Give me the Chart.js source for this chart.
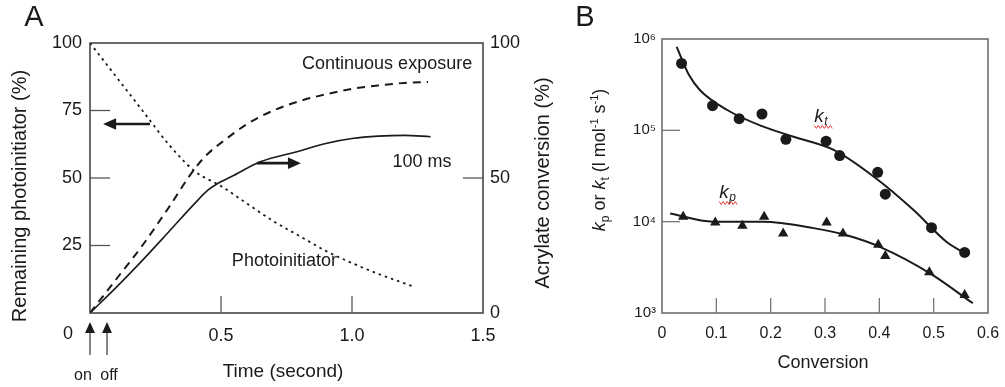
<!DOCTYPE html>
<html lang="en">
<head>
<meta charset="UTF-8">
<title>Photoinitiator consumption and rate constants</title>
<script src="https://cdn.jsdelivr.net/npm/chart.js"></script>
<style>
  * { margin: 0; padding: 0; }
  body { background: #fff; width: 1005px; height: 387px; position: relative; overflow: hidden; }
  .panel { position: absolute; top: 0; }
  #panelA { left: 0; width: 560px; height: 387px; }
  #panelB { left: 560px; width: 445px; height: 387px; }
</style>
</head>
<body>
<div class="panel" id="panelA"><canvas id="chartA" width="560" height="387"></canvas></div>
<div class="panel" id="panelB"><canvas id="chartB" width="445" height="387"></canvas></div>
<script>
// ---- panel A: time (s) vs remaining photoinitiator / acrylate conversion (%)
const piTime = [0, 0.1, 0.2, 0.3, 0.4, 0.5, 0.6, 0.7, 0.8, 0.9, 1.0, 1.1, 1.2, 1.24];
const piRemaining = [100, 87.5, 75, 62.5, 52.5, 47, 40.5, 34, 28.5, 23, 18.5, 14.5, 11, 9.6];
const contTime = [0, 0.1, 0.2, 0.3, 0.4, 0.45, 0.5, 0.6, 0.7, 0.8, 0.9, 1.0, 1.1, 1.2, 1.29];
const contConversion = [0, 12.5, 25, 39, 53.5, 59, 63, 70, 75, 78.5, 81, 83, 84.3, 85.2, 85.6];
const pulseTime = [0, 0.1, 0.2, 0.3, 0.4, 0.45, 0.48, 0.55, 0.65, 0.8, 0.9, 1.0, 1.1, 1.2, 1.3];
const pulseConversion = [0, 9.5, 19.5, 30, 40.6, 45.5, 47.5, 51, 56, 60, 62.8, 64.6, 65.5, 65.8, 65.3];

// ---- panel B: conversion vs kt / kp (l mol-1 s-1)
const ktConv = [0.036, 0.093, 0.142, 0.184, 0.228, 0.302, 0.327, 0.397, 0.411, 0.496, 0.557];
const ktVal = [5.4e5, 1.86e5, 1.34e5, 1.51e5, 7.98e4, 7.6e4, 5.3e4, 3.47e4, 2.0e4, 8.6e3, 4.6e3];
const kpConv = [0.039, 0.098, 0.148, 0.188, 0.223, 0.303, 0.333, 0.398, 0.411, 0.492, 0.557];
const kpVal = [1.13e4, 9.8e3, 9.0e3, 1.13e4, 7.4e3, 9.8e3, 7.4e3, 5.6e3, 4.2e3, 2.8e3, 1.57e3];
const ktFitConv = [0.027, 0.05, 0.07, 0.12, 0.184, 0.242, 0.316, 0.39, 0.463, 0.524, 0.564];
const ktFitVal = [8.2e5, 4.0e5, 2.75e5, 1.67e5, 1.11e5, 8.5e4, 6.1e4, 3.1e4, 1.34e4, 6.0e3, 4.3e3];
const kpFitConv = [0.015, 0.094, 0.186, 0.279, 0.340, 0.401, 0.494, 0.572];
const kpFitVal = [1.23e4, 1.0e4, 1.0e4, 8.5e3, 7.1e3, 5.3e3, 2.7e3, 1.28e3];

const decadeTicks = [1e3, 1e4, 1e5, 1e6];
const decadeLabels = ['10³', '10⁴', '10⁵', '10⁶'];

const FONT = "'Liberation Sans', Arial, sans-serif";
const INK = '#1a1a1a';
Chart.defaults.font.family = FONT;
Chart.defaults.color = INK;

function pts(xs, ys) { return xs.map((x, i) => ({ x: x, y: ys[i] })); }

function text(ctx, str, x, y, size, opts) {
  opts = opts || {};
  ctx.save();
  ctx.font = (opts.style || '') + ' ' + size + 'px ' + FONT;
  ctx.fillStyle = opts.color || INK;
  ctx.textAlign = opts.align || 'center';
  ctx.textBaseline = 'middle';
  ctx.translate(x, y);
  if (opts.rotate) ctx.rotate(opts.rotate);
  ctx.fillText(str, 0, 0);
  ctx.restore();
}

function arrow(ctx, x1, y1, x2, y2, head, lw) {
  const a = Math.atan2(y2 - y1, x2 - x1);
  ctx.save();
  ctx.strokeStyle = INK; ctx.fillStyle = INK; ctx.lineWidth = lw;
  ctx.beginPath();
  ctx.moveTo(x1, y1);
  ctx.lineTo(x2 - Math.cos(a) * head * 0.8, y2 - Math.sin(a) * head * 0.8);
  ctx.stroke();
  ctx.beginPath();
  ctx.moveTo(x2, y2);
  ctx.lineTo(x2 - head * Math.cos(a) + head * 0.45 * Math.sin(a), y2 - head * Math.sin(a) - head * 0.45 * Math.cos(a));
  ctx.lineTo(x2 - head * Math.cos(a) - head * 0.45 * Math.sin(a), y2 - head * Math.sin(a) + head * 0.45 * Math.cos(a));
  ctx.closePath();
  ctx.fill();
  ctx.restore();
}

function tick(ctx, x1, y1, x2, y2, color) {
  ctx.save();
  ctx.strokeStyle = color; ctx.lineWidth = 1.3;
  ctx.beginPath(); ctx.moveTo(x1, y1); ctx.lineTo(x2, y2); ctx.stroke();
  ctx.restore();
}

// rotated title made of styled pieces (italic k, sub/superscripts)
function richVertical(ctx, pieces, cx, cy, size) {
  ctx.save();
  ctx.translate(cx, cy);
  ctx.rotate(-Math.PI / 2);
  let total = 0;
  pieces.forEach(p => {
    ctx.font = (p.style || '') + ' ' + Math.round(size * (p.scale || 1)) + 'px ' + FONT;
    p.w = ctx.measureText(p.t).width;
    total += p.w;
  });
  let x = -total / 2;
  ctx.fillStyle = INK;
  ctx.textBaseline = 'middle';
  ctx.textAlign = 'left';
  pieces.forEach(p => {
    ctx.font = (p.style || '') + ' ' + Math.round(size * (p.scale || 1)) + 'px ' + FONT;
    ctx.fillText(p.t, x, (p.dy || 0) * size);
    x += p.w;
  });
  ctx.restore();
}

function fixBox(w, h) {
  return s => {
    if (w !== null) s.width = w;
    if (h !== null) s.height = h;
    s.paddingTop = 0; s.paddingBottom = 0; s.paddingLeft = 0; s.paddingRight = 0;
  };
}

const decorA = {
  id: 'decorA',
  afterDraw(chart) {
    const { ctx, chartArea: ca, scales } = chart;
    const x = scales.x, yL = scales.yL, yR = scales.yR;
    // frame
    ctx.save();
    ctx.strokeStyle = '#3a3a3a'; ctx.lineWidth = 1.5;
    ctx.strokeRect(ca.left, ca.top, ca.right - ca.left, ca.bottom - ca.top);
    ctx.restore();
    // inward ticks
    [25, 50, 75].forEach(v => { const py = yL.getPixelForValue(v); tick(ctx, ca.left, py, ca.left + 20, py, '#555'); });
    [50].forEach(v => { const py = yR.getPixelForValue(v); tick(ctx, ca.right - 20, py, ca.right, py, '#555'); });
    [0.5, 1.0].forEach(v => { const px = x.getPixelForValue(v); tick(ctx, px, ca.bottom, px, ca.bottom - 17, '#555'); });
    // direction arrows
    arrow(ctx, x.getPixelForValue(0.229), yL.getPixelForValue(70), x.getPixelForValue(0.05), yL.getPixelForValue(70), 13, 2.6);
    arrow(ctx, x.getPixelForValue(0.637), yR.getPixelForValue(55.5), x.getPixelForValue(0.805), yR.getPixelForValue(55.5), 13, 2.6);
    // curve labels
    text(ctx, 'Continuous exposure', x.getPixelForValue(1.134), yR.getPixelForValue(92.2), 18);
    text(ctx, '100 ms', x.getPixelForValue(1.267), yR.getPixelForValue(55.8), 18);
    text(ctx, 'Photoinitiator', x.getPixelForValue(0.742), yL.getPixelForValue(19.1), 18);
    // origin label, on / off markers
    text(ctx, '0', x.getPixelForValue(0) - 22, ca.bottom + 21, 18);
    [0, 0.065].forEach(t => {
      const px = x.getPixelForValue(t);
      tick(ctx, px, ca.bottom + 42, px, ca.bottom + 18, '#444');
      arrow(ctx, px, ca.bottom + 20, px, ca.bottom + 9, 11, 0.1);
    });
    text(ctx, 'on', x.getPixelForValue(0) - 7, 376, 16);
    text(ctx, 'off', x.getPixelForValue(0.065) + 2, 376, 16);
    // axis titles
    text(ctx, 'Time (second)', 283, 372, 19);
    text(ctx, 'Remaining photoinitiator (%)', 20, 196, 20, { rotate: -Math.PI / 2 });
    text(ctx, 'Acrylate conversion (%)', 543, 183, 20, { rotate: -Math.PI / 2 });
    // panel letter
    text(ctx, 'A', 34, 18, 29);
  }
};

new Chart(document.getElementById('chartA'), {
  type: 'line',
  data: {
    datasets: [
      { label: 'Photoinitiator', data: pts(piTime, piRemaining), yAxisID: 'yL', borderColor: INK, borderWidth: 1.8, borderDash: [2.5, 4], pointRadius: 0, cubicInterpolationMode: 'monotone', fill: false },
      { label: 'Continuous exposure', data: pts(contTime, contConversion), yAxisID: 'yR', borderColor: INK, borderWidth: 2, borderDash: [8, 6], pointRadius: 0, cubicInterpolationMode: 'monotone', fill: false },
      { label: '100 ms', data: pts(pulseTime, pulseConversion), yAxisID: 'yR', borderColor: INK, borderWidth: 1.6, pointRadius: 0, cubicInterpolationMode: 'monotone', fill: false }
    ]
  },
  options: {
    responsive: false,
    animation: false,
    layout: { padding: { top: 43, left: 0, right: 0, bottom: 0 } },
    plugins: { legend: { display: false }, tooltip: { enabled: false } },
    scales: {
      x: {
        type: 'linear', min: 0, max: 1.5,
        afterFit: fixBox(null, 74),
        grid: { display: false, drawTicks: false }, border: { display: false },
        ticks: { stepSize: 0.5, padding: 12, autoSkip: false, maxRotation: 0, font: { size: 18 }, color: INK,
          callback: v => v === 0 ? '' : v.toFixed(1) }
      },
      yL: {
        position: 'left', min: 0, max: 100,
        afterFit: fixBox(90, null),
        grid: { display: false, drawTicks: false }, border: { display: false },
        ticks: { stepSize: 25, padding: 8, font: { size: 18 }, color: INK, callback: v => v === 0 ? '' : v }
      },
      yR: {
        position: 'right', min: 0, max: 100,
        afterFit: fixBox(77, null),
        grid: { display: false, drawTicks: false }, border: { display: false },
        ticks: { stepSize: 50, padding: 7, font: { size: 18 }, color: INK }
      }
    }
  },
  plugins: [decorA]
});

function wavy(ctx, x0, x1, y) {
  ctx.save();
  ctx.strokeStyle = '#e0403a'; ctx.lineWidth = 1;
  ctx.beginPath();
  for (let px = x0, i = 0; px <= x1; px += 2, i++) {
    const py = y + (i % 2 ? 1.5 : -1.5);
    if (i === 0) ctx.moveTo(px, py); else ctx.lineTo(px, py);
  }
  ctx.stroke();
  ctx.restore();
}

function kLabel(ctx, sub, px, py) {
  ctx.save();
  ctx.fillStyle = INK; ctx.textBaseline = 'alphabetic'; ctx.textAlign = 'left';
  ctx.font = 'italic 19px ' + FONT;
  ctx.fillText('k', px - 8, py + 6);
  ctx.font = 'italic 12px ' + FONT;
  ctx.fillText(sub, px + 2, py + 9);
  ctx.restore();
  wavy(ctx, px - 8, px + 10, py + 11);
}

const decorB = {
  id: 'decorB',
  afterDraw(chart) {
    const { ctx, chartArea: ca, scales } = chart;
    const x = scales.x, y = scales.y;
    ctx.save();
    ctx.strokeStyle = '#666'; ctx.lineWidth = 1.5;
    ctx.strokeRect(ca.left, ca.top, ca.right - ca.left, ca.bottom - ca.top);
    ctx.restore();
    [0.1, 0.2, 0.3, 0.4, 0.5].forEach(v => { const px = x.getPixelForValue(v); tick(ctx, px, ca.bottom, px, ca.bottom - 15, '#777'); });
    [1e4, 1e5].forEach(v => { const py = y.getPixelForValue(v); tick(ctx, ca.left, py, ca.left + 18, py, '#777'); });
    kLabel(ctx, 't', x.getPixelForValue(0.295), y.getPixelForValue(1.44e5));
    kLabel(ctx, 'p', x.getPixelForValue(0.12), y.getPixelForValue(2.11e4));
    text(ctx, 'Conversion', 263, 363, 18);
    richVertical(ctx, [
      { t: 'k', style: 'italic' }, { t: 'p', scale: 0.65, dy: 0.3 },
      { t: ' or ' },
      { t: 'k', style: 'italic' }, { t: 't', scale: 0.65, dy: 0.3 },
      { t: ' (l mol' }, { t: '-1', scale: 0.6, dy: -0.3 },
      { t: ' s' }, { t: '-1', scale: 0.6, dy: -0.3 },
      { t: ')' }
    ], 40, 160, 18);
    text(ctx, 'B', 25, 18, 29);
  }
};

new Chart(document.getElementById('chartB'), {
  type: 'scatter',
  data: {
    datasets: [
      { label: 'kt', data: pts(ktConv, ktVal), pointStyle: 'circle', pointRadius: 5.5, backgroundColor: INK, borderColor: INK, borderWidth: 0 },
      { label: 'kp', data: pts(kpConv, kpVal), pointStyle: 'triangle', pointRadius: 6, backgroundColor: INK, borderColor: INK, borderWidth: 0 },
      { label: 'kt fit', data: pts(ktFitConv, ktFitVal), showLine: true, pointRadius: 0, borderColor: INK, borderWidth: 2, cubicInterpolationMode: 'monotone' },
      { label: 'kp fit', data: pts(kpFitConv, kpFitVal), showLine: true, pointRadius: 0, borderColor: INK, borderWidth: 2, cubicInterpolationMode: 'monotone' }
    ]
  },
  options: {
    responsive: false,
    animation: false,
    layout: { padding: { top: 39, left: 0, right: 17, bottom: 0 } },
    plugins: { legend: { display: false }, tooltip: { enabled: false } },
    scales: {
      x: {
        type: 'linear', min: 0, max: 0.6,
        afterFit: fixBox(null, 74),
        grid: { display: false, drawTicks: false }, border: { display: false },
        ticks: { stepSize: 0.1, padding: 11, autoSkip: false, maxRotation: 0, font: { size: 16 }, color: INK,
          callback: v => v === 0 ? '0' : v.toFixed(1) }
      },
      y: {
        type: 'logarithmic', min: 1e3, max: 1e6,
        afterFit: fixBox(102, null),
        grid: { display: false, drawTicks: false }, border: { display: false },
        ticks: { padding: 6, autoSkip: false, font: { size: 15 }, color: INK,
          callback: v => { const i = decadeTicks.indexOf(v); return i >= 0 ? decadeLabels[i] : ''; } }
      }
    }
  },
  plugins: [decorB]
});
</script>
</body>
</html>
